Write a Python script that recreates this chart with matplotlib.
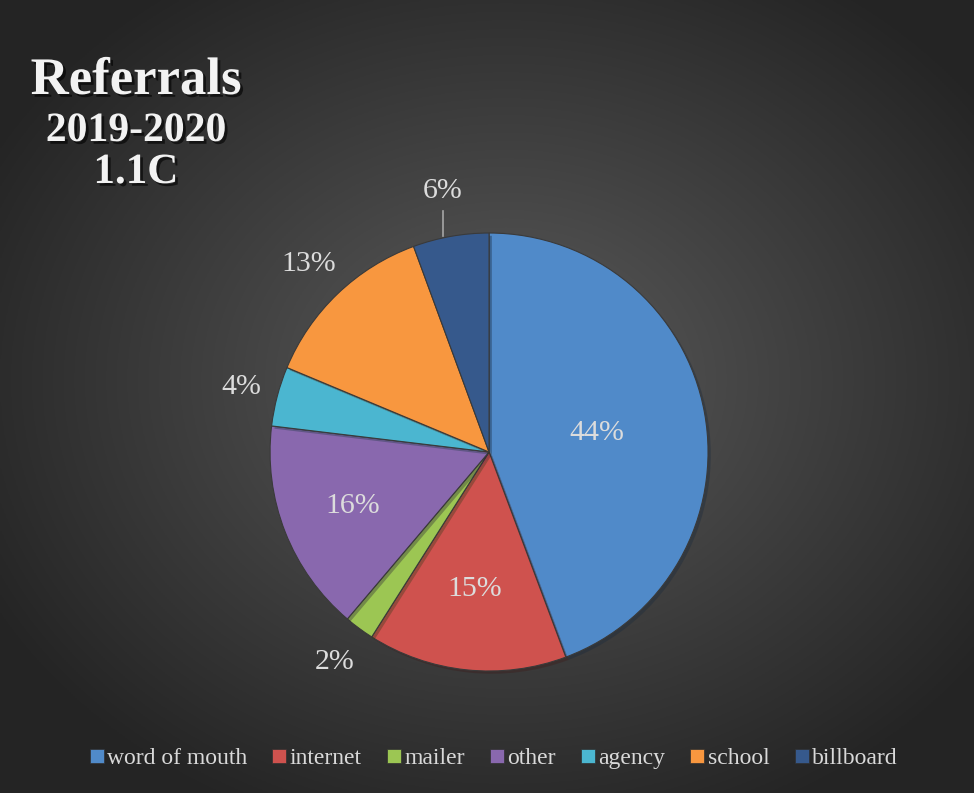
import numpy as np
from matplotlib import pyplot as plt
from matplotlib.lines import Line2D
import matplotlib.patheffects as pe

plt.rcParams['font.family'] = ['Liberation Serif', 'DejaVu Serif']

categories = ['word of mouth', 'internet', 'mailer', 'other', 'agency', 'school', 'billboard']
shares = [44.3, 14.7, 2.2, 15.7, 4.4, 13.1, 5.6]
colors = ['#508ac9', '#cf524e', '#9cc653', '#8968ae', '#4bb6d0', '#f8973f', '#36598c']
# distance of each percent label from centre (pie radius = 1)
label_dist = [0.50, 0.63, 1.19, 0.67, 1.17, 1.19, 1.21]

fig = plt.figure(figsize=(9.74, 7.93), dpi=100)

# dark radial background
bg = fig.add_axes([0, 0, 1, 1], zorder=-10)
yy, xx = np.mgrid[0:1:400j, 0:1:490j]
d = np.sqrt(((xx - 0.52) / 0.75) ** 2 + ((yy - 0.48) / 0.75) ** 2)
shade = np.clip(0.36 - 0.27 * d, 0.145, 0.36)
bg.imshow(np.dstack([shade] * 3), extent=[0, 1, 0, 1], aspect='auto', origin='upper')
bg.axis('off')

ax = fig.add_axes([0.2098, 0.071, 0.5846, 0.718])
wedges, _ = ax.pie(shares, colors=colors, startangle=90, counterclock=False,
                   wedgeprops=dict(edgecolor='#3a3a3a', linewidth=0.8))
for w in wedges:
    w.set_path_effects([pe.SimplePatchShadow(offset=(2, -2), alpha=0.35), pe.Normal()])

total = sum(shares)
for w, v, r in zip(wedges, shares, label_dist):
    ang = np.deg2rad((w.theta1 + w.theta2) / 2)
    x, y = r * np.cos(ang), r * np.sin(ang)
    ax.text(x, y, f'{round(v / total * 100)}%', ha='center', va='center',
            fontsize=21.5, color='#dcdcdc')
    if r > 1.2:
        ax.plot([x, x], [np.sqrt(1 - x ** 2) + 0.01, y - 0.09], color='#a6a6a6', lw=1.2)

ax.set_xlim(-1.3, 1.3)
ax.set_ylim(-1.3, 1.3)
ax.set_aspect('equal')
ax.axis('off')

shadow = [pe.SimplePatchShadow(offset=(2, -2), shadow_rgbFace='black', alpha=0.6), pe.Normal()]
fig.text(136 / 974, 1 - 81 / 793, 'Referrals', ha='center', va='center', fontsize=38,
         fontweight='bold', color='#f2f2f2', path_effects=shadow)
fig.text(136 / 974, 1 - 131 / 793, '2019-2020', ha='center', va='center', fontsize=30,
         fontweight='bold', color='#f2f2f2', path_effects=shadow)
fig.text(136 / 974, 1 - 173 / 793, '1.1C', ha='center', va='center', fontsize=31,
         fontweight='bold', color='#f2f2f2', path_effects=shadow)

handles = [Line2D([], [], marker='s', linestyle='', markersize=10, color=c,
                  markeredgecolor='#303030', markeredgewidth=0.5) for c in colors]
fig.legend(handles, categories, ncol=7, loc='center', frameon=False,
           bbox_to_anchor=(493 / 974, 1 - 758 / 793), handlelength=0.7,
           handletextpad=0.1, columnspacing=1.0, labelcolor='#d9d9d9',
           prop={'family': 'Liberation Serif', 'size': 17})

fig.savefig('out.png', dpi=100, facecolor='#333333')
